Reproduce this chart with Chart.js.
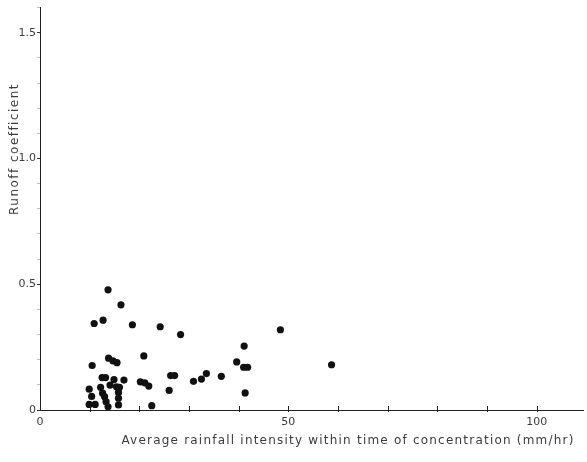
<!DOCTYPE html>
<html>
<head>
<meta charset="utf-8">
<title>Runoff coefficient vs rainfall intensity</title>
<script src="https://cdn.jsdelivr.net/npm/chart.js@4/dist/chart.umd.min.js"></script>
<style>
  html, body { margin: 0; padding: 0; background: #ffffff; }
  #wrap { width: 587px; height: 462px; position: relative; }
</style>
</head>
<body>
<div id="wrap"><canvas id="chart" width="587" height="462"></canvas></div>
<script>
// Average rainfall intensity within time of concentration (mm/hr)
const intensity = [
  13.7, 16.3, 10.9, 12.7, 18.6, 24.2, 28.3,
  10.5, 13.8, 14.7, 15.5, 20.9,
  12.5, 13.2, 14.9, 16.9, 20.2, 21.1, 21.9,
  26.3, 27.1, 26.0, 30.9,
  9.9, 10.4, 9.9, 11.1,
  12.2, 12.6, 13.0, 13.3, 13.7,
  14.1, 15.4, 16.0,
  15.8, 15.8, 15.8, 22.5,
  32.5, 33.5, 36.5, 39.6, 41.1, 41.0, 41.8, 41.3,
  48.4, 58.7
];
// Runoff coefficient for each storm
const runoff = [
  0.478, 0.418, 0.344, 0.357, 0.339, 0.331, 0.300,
  0.177, 0.206, 0.195, 0.188, 0.215,
  0.129, 0.129, 0.121, 0.119, 0.112, 0.108, 0.095,
  0.137, 0.137, 0.078, 0.114,
  0.083, 0.054, 0.022, 0.022,
  0.090, 0.067, 0.053, 0.033, 0.013,
  0.099, 0.092, 0.090,
  0.070, 0.047, 0.020, 0.017,
  0.123, 0.145, 0.134, 0.191, 0.254, 0.170, 0.170, 0.068,
  0.319, 0.180
];
const xLabelValues = [0, 50, 100];
const yLabelValues = [0, 0.5, 1.0, 1.5];
const xTitle = 'Average rainfall intensity within time of concentration (mm/hr)';
const yTitle = 'Runoff coefficient';

const points = intensity.map((x, i) => ({ x: x, y: runoff[i] }));
const inkText = '#3c3c3c';
const near = (a, b) => Math.abs(a - b) < 1e-6;

// Short tick marks sitting on the x axis, drawn at each 10 mm/hr step
const innerTicks = {
  id: 'innerTicks',
  afterDraw(chart) {
    const sx = chart.scales.x;
    const ctx = chart.ctx;
    const base = chart.chartArea.bottom;
    ctx.save();
    ctx.strokeStyle = '#222';
    ctx.lineWidth = 1;
    sx.ticks.forEach(t => {
      if (t.value <= 0 || !near(t.value % 10, 0)) return;
      const px = Math.round(sx.getPixelForValue(t.value)) + 0.5;
      ctx.beginPath();
      ctx.moveTo(px, base - 4);
      ctx.lineTo(px, base + 2);
      ctx.stroke();
    });
    ctx.restore();
  }
};

// Axis titles, spaced out to the lettering width of the figure
const axisTitles = {
  id: 'axisTitles',
  afterDraw(chart) {
    const ctx = chart.ctx;
    const area = chart.chartArea;
    ctx.save();
    ctx.fillStyle = inkText;
    ctx.textAlign = 'center';
    ctx.textBaseline = 'middle';

    ctx.font = '12px "DejaVu Sans"';
    let w = ctx.measureText(xTitle).width;
    ctx.letterSpacing = ((452 - w) / (xTitle.length - 1)).toFixed(2) + 'px';
    ctx.fillText(xTitle, area.left + 308, 441);

    ctx.letterSpacing = '0px';
    ctx.font = '12px "DejaVu Sans"';
    w = ctx.measureText(yTitle).width;
    ctx.letterSpacing = ((130 - w) / (yTitle.length - 1)).toFixed(2) + 'px';
    ctx.translate(15, 149);
    ctx.rotate(-Math.PI / 2);
    ctx.fillText(yTitle, 0, 0);
    ctx.restore();
  }
};

new Chart(document.getElementById('chart'), {
  type: 'scatter',
  data: {
    datasets: [{
      data: points,
      backgroundColor: '#111111',
      borderColor: '#111111',
      borderWidth: 0,
      pointRadius: 3.6,
      pointHoverRadius: 3.6
    }]
  },
  options: {
    responsive: false,
    animation: false,
    events: [],
    layout: { padding: { top: 5, right: 0, left: 0, bottom: 0 } },
    plugins: {
      legend: { display: false },
      tooltip: { enabled: false }
    },
    scales: {
      x: {
        type: 'linear',
        min: 0,
        max: 109.4,
        afterFit(scale) { scale.height = 52; },
        border: { display: true, color: '#222', width: 1 },
        grid: { display: true, drawOnChartArea: false, drawTicks: false },
        ticks: {
          stepSize: 10,
          includeBounds: false,
          autoSkip: false,
          maxRotation: 0,
          padding: 6,
          color: inkText,
          font: { family: '"DejaVu Sans"', size: 11 },
          callback: v => xLabelValues.some(l => near(l, v)) ? String(v) : ''
        }
      },
      y: {
        type: 'linear',
        min: 0,
        max: 1.6,
        afterFit(scale) { scale.width = 40; },
        border: { display: true, color: '#222', width: 1 },
        grid: {
          display: true,
          drawOnChartArea: false,
          drawTicks: true,
          tickLength: 3,
          tickColor: c => yLabelValues.some(l => near(l, c.tick.value)) ? '#333' : 'rgba(0,0,0,0.25)'
        },
        ticks: {
          stepSize: 0.1,
          includeBounds: false,
          autoSkip: false,
          padding: 1,
          color: inkText,
          font: { family: '"DejaVu Sans"', size: 11 },
          callback: v => {
            if (!yLabelValues.some(l => near(l, v))) return '';
            return near(v, 0) ? '0' : v.toFixed(1);
          }
        }
      }
    }
  },
  plugins: [innerTicks, axisTitles]
});
</script>
</body>
</html>
